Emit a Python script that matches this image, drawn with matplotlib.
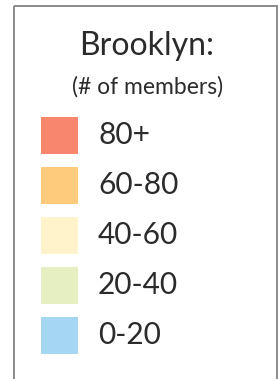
import matplotlib
matplotlib.use("Agg")
import matplotlib.pyplot as plt
from matplotlib.patches import Rectangle

title = "Brooklyn:"
subtitle = "(# of members)"
labels = ["80+", "60-80", "40-60", "20-40", "0-20"]
colors = ["#F7876C", "#FDCB7B", "#FEF3CA", "#E6EFC2", "#A6D7F2"]

W, H = 279, 379
fig = plt.figure(figsize=(W / 100, H / 100), dpi=100)
ax = fig.add_axes([0, 0, 1, 1])
ax.set_xlim(0, W)
ax.set_ylim(H, 0)
ax.axis("off")

font = ["Lato", "DejaVu Sans"]

# frame
ax.add_patch(Rectangle((14, 6), 263, 400, fill=False, edgecolor="#8a8a8a",
                       linewidth=1.4, clip_on=True))

ax.text(147, 46, title, ha="center", va="center", fontsize=23,
        color="#2b2b2b", family=font)
ax.text(148, 87, subtitle, ha="center", va="center", fontsize=16.5,
        color="#2b2b2b", family=font)

for i, (lab, col) in enumerate(zip(labels, colors)):
    y0 = 117 + 50 * i
    ax.add_patch(Rectangle((41, y0), 37, 37, facecolor=col, edgecolor="none"))
    ax.text(98, y0 + 18.5, lab, ha="left", va="center", fontsize=21.5,
            color="#2b2b2b", family=font)

fig.savefig("out.png", dpi=100)
